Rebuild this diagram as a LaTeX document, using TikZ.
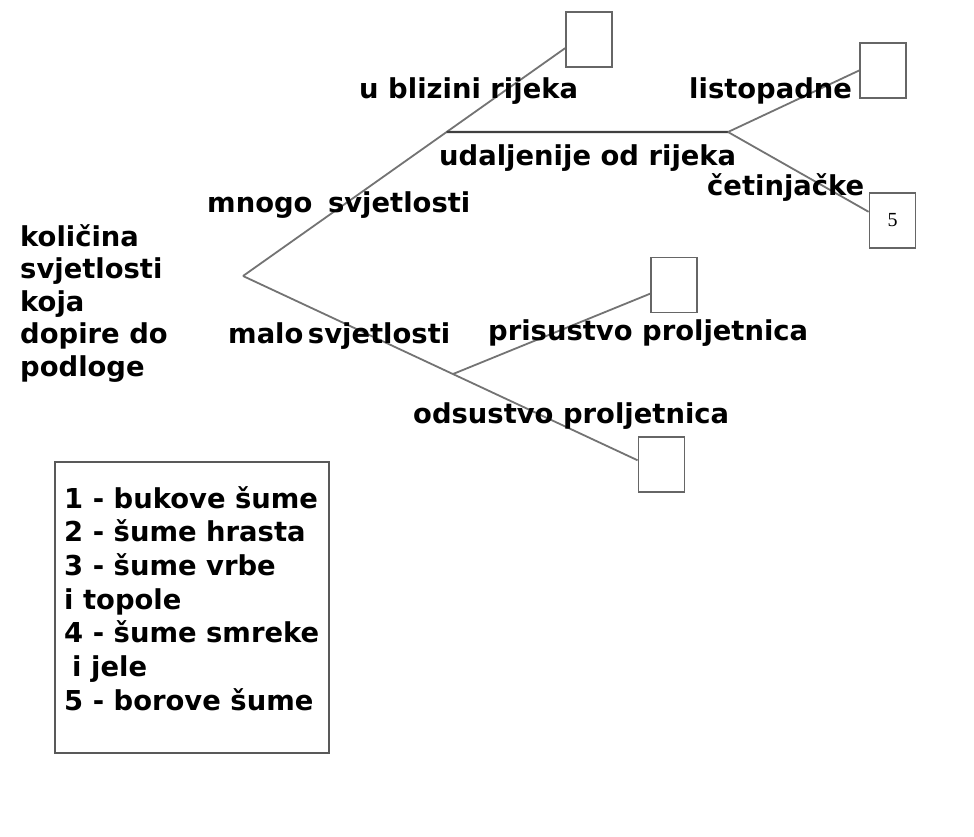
\documentclass[tikz,border=0pt]{standalone}
\usepackage{fontspec}
\setmainfont{DejaVu Sans}
\newfontfamily\digitfont{Liberation Serif}
\usetikzlibrary{calc}
\tikzset{
  lbl/.style={font=\bfseries\fontsize{27.4}{33.7}\selectfont, inner sep=0pt},
  leaf/.style={draw=black!60, line width=1.8pt, minimum width=46pt, minimum height=55pt, inner sep=0pt},
  branch/.style={draw=black!55, line width=1.8pt},
}
\begin{document}
\begin{tikzpicture}[x=1pt,y=-1pt]
\useasboundingbox (0,0) rectangle (974,836);
\coordinate (root) at (243,276);
\node[leaf] (near) at (589,39.5) {};
\node[leaf] (decid) at (883,70.5) {};
\node[leaf] (conif) at (892.5,220.5) {\digitfont\fontsize{20}{20}\selectfont 5};
\node[leaf] (present) at (674,285) {};
\node[leaf] (absent) at (661.5,464.5) {};

\draw[branch] (root) -- (near.200);
\coordinate (jup) at ($(root)!0.632!(near.200)$);
\coordinate (jright) at (728,132);
\draw[branch, draw=black!75, line width=2.4pt] (jup) -- (jright);
\draw[branch] (jright) -- (decid.west);
\draw[branch] (jright) -- (conif.160);
\draw[branch] (root) -- (absent.170);
\coordinate (jlow) at ($(root)!0.532!(absent.170)$);
\draw[branch] (jlow) -- (present.200);

\node[lbl, anchor=base west] (lblnear) at (359,98) {u blizini rijeka};
\node[lbl, anchor=base west] (lblfar) at (439,165) {udaljenije od rijeka};
\node[lbl, anchor=base west] (lblmuch) at (207,212) {mnogo\hspace{6pt} svjetlosti};
\node[lbl, anchor=base west] (lbllittle) at (228,343) {malo\hspace{-5pt} svjetlosti};
\node[lbl, anchor=base west] (lblpresent) at (488,340) {prisustvo proljetnica};
\node[lbl, anchor=base west] (lblabsent) at (413,423) {odsustvo proljetnica};
\node[lbl, anchor=base west] (lbldecid) at (689,98) {listopadne};
\node[lbl, anchor=base west] (lblconif) at (707,195) {četinjačke};

\node[lbl, font=\bfseries\fontsize{27.4}{32.5}\selectfont, align=left, anchor=north west] (question) at (20,224)
  {količina\\svjetlosti\\koja\\dopire do\\podloge};

\node[draw=black!65, line width=1.8pt, anchor=north west, minimum width=274pt, minimum height=291pt, inner sep=0pt] (legend) at (54,461) {};
\node[lbl, align=left, anchor=north west] (legendtext) at (64,486)
  {1 - bukove šume\\2 - šume hrasta\\3 - šume vrbe\\i topole\\4 - šume smreke\\\hspace{8pt}i jele\\5 - borove šume};
\end{tikzpicture}
\end{document}
